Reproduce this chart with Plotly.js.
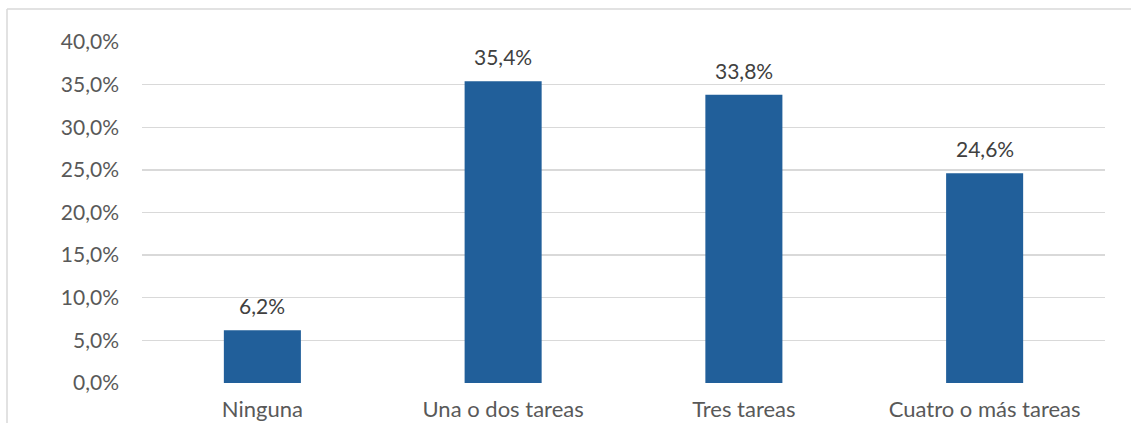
<!DOCTYPE html>
<html><head><meta charset="utf-8">
<script src="https://cdn.plot.ly/plotly-3.0.1.min.js"></script>
<style>html,body{margin:0;padding:0;background:#fff;}#chart{width:1131px;height:423px;}</style>
</head><body><div id="chart"></div>
<script>
const categories = ["Ninguna", "Una o dos tareas", "Tres tareas", "Cuatro o más tareas"];
const values = [6.2, 35.4, 33.8, 24.6];
const yTickValues = [0, 5, 10, 15, 20, 25, 30, 35, 40];
const yTickLabels = yTickValues.map(v => v.toFixed(1).replace('.', ',') + '%');
const labels = values.map(v => v.toFixed(1).replace('.', ',') + '%');

const W = 1131, H = 423, L = 142, R = 26, T = 42, B = 40;
const pw = W - L - R, ph = H - T - B;
const px = x => (x - L) / pw;
const py = y => (H - B - y) / ph;

const font = "Lato, 'Open Sans', sans-serif";
const annotations = categories.map((c, i) => ({
  x: c, y: values[i], xref: 'x', yref: 'y', text: labels[i], showarrow: false,
  yanchor: 'bottom', yshift: 10, font: {family: font, size: 21, color: '#404040'}
}));
Plotly.newPlot('chart', [{
  type: 'bar', x: categories, y: values,
  marker: {color: '#215F9A'},
  width: 0.32,
  hoverinfo: 'none'
}], {
  width: W, height: H,
  margin: {l: L, r: R, t: T, b: B},
  paper_bgcolor: '#fff', plot_bgcolor: '#fff',
  showlegend: false,
  xaxis: {showgrid: false, zeroline: false, showline: false, ticks: '',
          tickfont: {family: font, size: 22, color: '#595959'}, ticklabelstandoff: 11},
  yaxis: {range: [0, 40], tickvals: yTickValues, ticktext: yTickLabels,
          showgrid: true, gridcolor: '#D9D9D9', gridwidth: 1.3, zeroline: false, showline: false,
          ticks: '', tickfont: {family: font, size: 21, color: '#595959'}, ticklabelstandoff: 22},
  annotations: annotations,
  shapes: [
    {type: 'line', xref: 'paper', yref: 'paper', x0: px(7), x1: px(1140), y0: py(9), y1: py(9), line: {color: '#D9D9D9', width: 1.5}},
    {type: 'line', xref: 'paper', yref: 'paper', x0: px(7), x1: px(7), y0: py(9), y1: py(440), line: {color: '#D9D9D9', width: 1.5}}
  ]
}, {displayModeBar: false, staticPlot: true});
</script></body></html>
